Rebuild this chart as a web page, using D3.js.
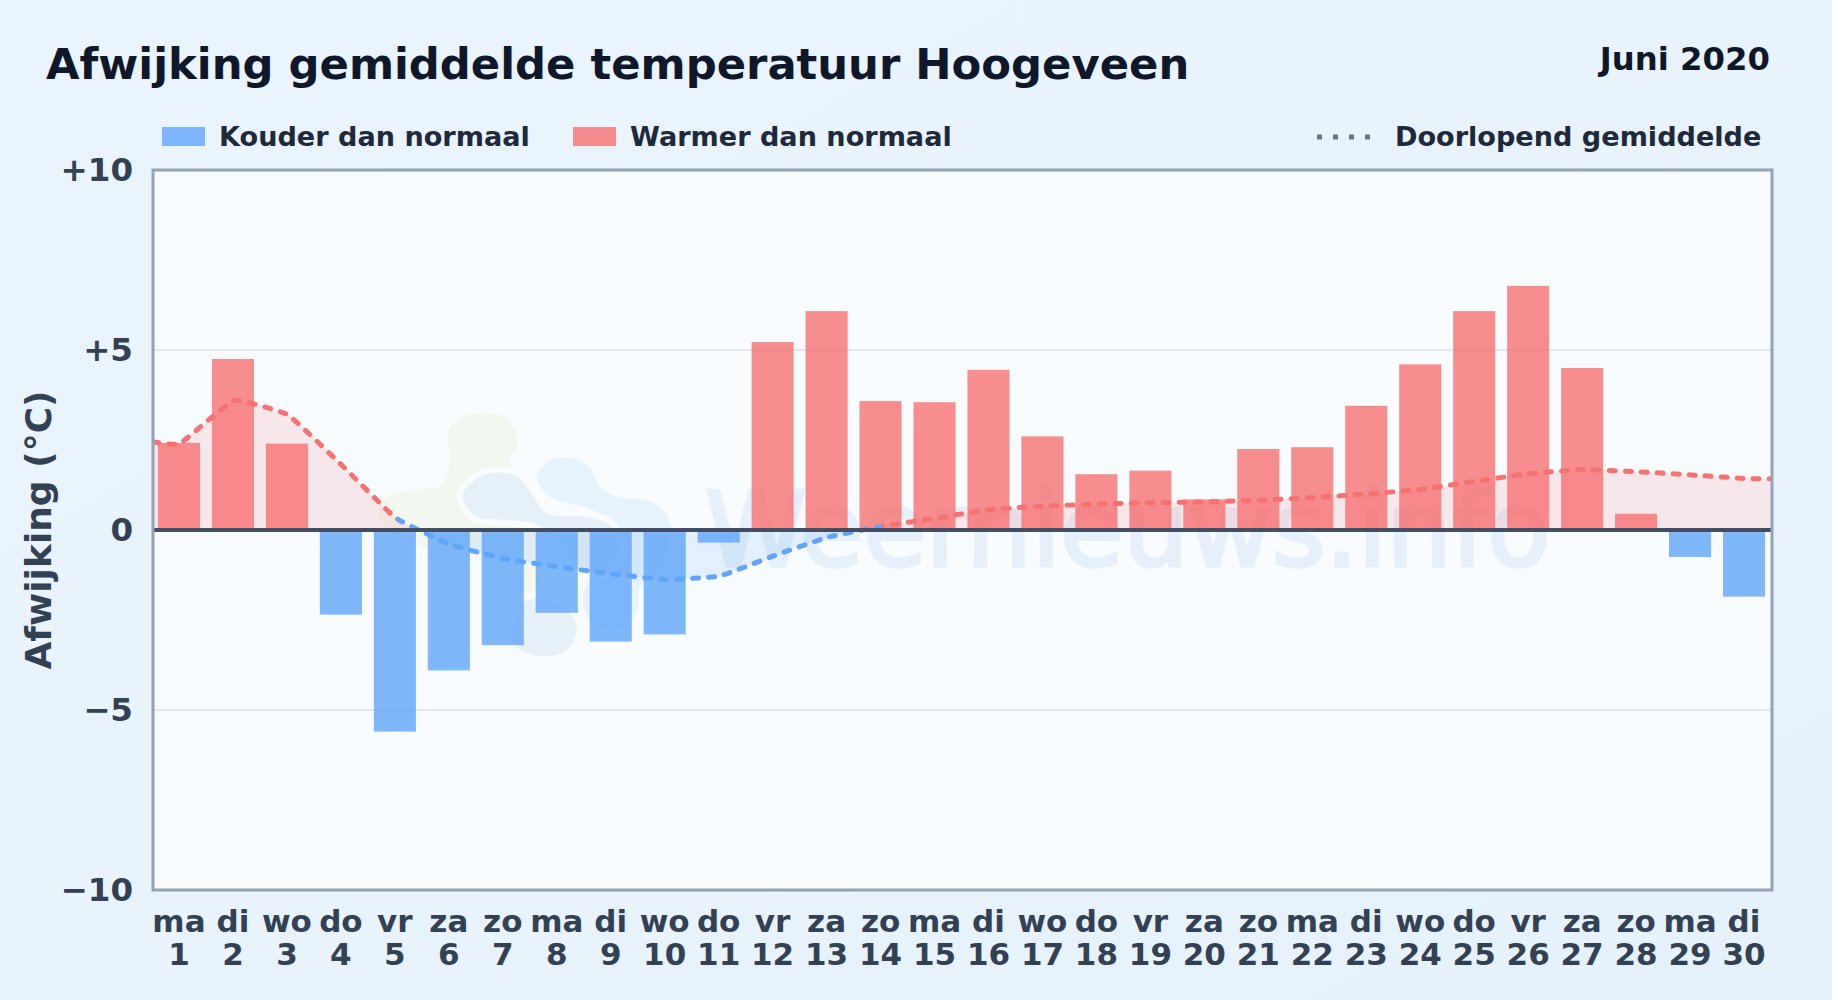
<!DOCTYPE html>
<html lang="nl">
<head>
<meta charset="utf-8">
<title>Afwijking gemiddelde temperatuur Hoogeveen</title>
<script src="https://cdn.jsdelivr.net/npm/d3@7"></script>
<style>
  html, body { margin: 0; padding: 0; background: #e8f3fc; }
  svg { display: block; font-family: "DejaVu Sans", sans-serif; font-weight: bold; }
</style>
</head>
<body>
<svg id="chart" width="1832" height="1000"></svg>
<script>
/* global d3 */
const days = d3.range(1, 31)
const weekdays = ['ma', 'di', 'wo', 'do', 'vr', 'za', 'zo', 'ma', 'di', 'wo', 'do', 'vr', 'za', 'zo', 'ma',
  'di', 'wo', 'do', 'vr', 'za', 'zo', 'ma', 'di', 'wo', 'do', 'vr', 'za', 'zo', 'ma', 'di']
const anomalies = [2.42, 4.75, 2.4, -2.35, -5.6, -3.9, -3.2, -2.3, -3.1, -2.9, -0.35, 5.22, 6.08, 3.58, 3.55,
  4.45, 2.6, 1.55, 1.65, 0.85, 2.25, 2.3, 3.45, 4.6, 6.08, 6.78, 4.5, 0.45, -0.75, -1.85]
// running mean, also at the two plot edges
const meanDays = [0.5, 1, 2, 3, 4, 5, 6, 7, 8, 9, 10, 11, 12, 13, 14, 15, 16, 17, 18, 19, 20, 21, 22, 23, 24,
  25, 26, 27, 28, 29, 30, 30.5]
const meanValues = [2.45, 2.4, 3.6, 3.2, 1.8, 0.33, -0.4, -0.8, -1.02, -1.22, -1.38, -1.28, -0.72, -0.2, 0.1,
  0.33, 0.57, 0.66, 0.72, 0.76, 0.78, 0.83, 0.9, 1.0, 1.13, 1.35, 1.57, 1.68, 1.62, 1.53, 1.43, 1.42]
// the dotted line is blue from this day up to that day, red elsewhere
const coldLineFrom = 5
const coldLineTo = 14
const yTicks = [-10, -5, 0, 5, 10]
const yTickLabels = ['\u221210', '\u22125', '0', '+5', '+10']

const plot = { left: 153, right: 1772, top: 170, bottom: 890 }
const cold = '#60a5fa'
const warm = '#f87171'
const ink = '#334155'
const plotFill = '#f8fcff'

const svg = d3.select('#chart')
const defs = svg.append('defs')

const pageGradient = defs.append('linearGradient').attr('id', 'page')
  .attr('x1', 0).attr('y1', 0).attr('x2', 1).attr('y2', 1)
pageGradient.append('stop').attr('offset', 0).attr('stop-color', '#eaf4fc')
pageGradient.append('stop').attr('offset', 1).attr('stop-color', '#e6f2fb')
svg.append('rect').attr('width', 1832).attr('height', 1000).attr('fill', 'url(#page)')

const x = d3.scaleBand().domain(days).range([plot.left - 1, plot.right - 1]).paddingInner(0.22).paddingOuter(0.11)
const xMean = d3.scaleLinear().domain([0.5, 30.5]).range([plot.left, plot.right])
const y = d3.scaleLinear().domain([-10, 10]).range([plot.bottom, plot.top])

svg.append('rect')
  .attr('x', plot.left).attr('y', plot.top)
  .attr('width', plot.right - plot.left).attr('height', plot.bottom - plot.top)
  .attr('fill', plotFill)

// Clip regions: the fill changes colour at zero, the line at two given days
defs.append('clipPath').attr('id', 'above').append('rect')
  .attr('x', plot.left).attr('y', y(10))
  .attr('width', plot.right - plot.left).attr('height', y(0) - y(10))
defs.append('clipPath').attr('id', 'below').append('rect')
  .attr('x', plot.left).attr('y', y(0))
  .attr('width', plot.right - plot.left).attr('height', y(-10) - y(0))
defs.append('clipPath').attr('id', 'lineCold').append('rect')
  .attr('x', xMean(coldLineFrom)).attr('y', plot.top)
  .attr('width', xMean(coldLineTo) - xMean(coldLineFrom)).attr('height', plot.bottom - plot.top)
const lineWarm = defs.append('clipPath').attr('id', 'lineWarm')
lineWarm.append('rect')
  .attr('x', plot.left).attr('y', plot.top)
  .attr('width', xMean(coldLineFrom) - plot.left).attr('height', plot.bottom - plot.top)
lineWarm.append('rect')
  .attr('x', xMean(coldLineTo)).attr('y', plot.top)
  .attr('width', plot.right - xMean(coldLineTo)).attr('height', plot.bottom - plot.top)

// Grid lines
svg.append('g').selectAll('line')
  .data(yTicks.filter(d => d !== 0 && Math.abs(d) !== 10))
  .join('line')
  .attr('x1', plot.left).attr('x2', plot.right)
  .attr('y1', d => y(d)).attr('y2', d => y(d))
  .attr('stroke', '#e2e8f0').attr('stroke-width', 2)

// Watermark logo, traced by hand; the halo is a stroke in the plot colour
const blob = d3.line().curve(d3.curveCatmullRomClosed.alpha(0.5))
const watermark = svg.append('g').attr('transform', 'translate(370,400) scale(0.3333)')
const logoBlobs = [
  { fill: '#f2f8f0', halo: 0, pts: [[340, 40], [410, 55], [443, 125], [420, 185], [500, 300], [500, 590], [440, 610], [330, 480], [140, 435], [30, 360], [40, 300], [130, 270], [215, 255], [240, 180], [235, 95], [270, 55]] },
  { fill: '#e6f3fd', halo: 36, pts: [[500, 230], [535, 185], [590, 172], [650, 195], [700, 270], [760, 295], [830, 300], [890, 345], [905, 420], [880, 500], [810, 560], [800, 640], [740, 690], [660, 660], [640, 580], [700, 500], [780, 440], [700, 350], [640, 320], [540, 290]] },
  { fill: '#e6f0f9', halo: 36, pts: [[280, 280], [350, 222], [440, 230], [490, 290], [530, 340], [640, 350], [720, 375], [750, 450], [700, 520], [630, 500], [560, 420], [490, 370], [400, 360], [310, 345]] },
  { fill: '#e6f0f9', halo: 36, pts: [[430, 730], [440, 650], [470, 600], [560, 610], [620, 680], [590, 750], [510, 768]] }
]
watermark.selectAll('path').data(logoBlobs).join('path')
  .attr('d', d => blob(d.pts))
  .attr('fill', d => d.fill)
  .attr('stroke', plotFill)
  .attr('stroke-width', d => d.halo)
  .attr('paint-order', 'stroke')
svg.append('text')
  .attr('x', 705).attr('y', 566)
  .attr('font-weight', 'normal')
  .attr('font-size', 102.5)
  .attr('fill', '#e6f0fa')
  .attr('stroke', '#e6f0fa')
  .attr('stroke-width', 3.5)
  .text('Weernieuws.info')

// Area between running mean and zero
const meanPoints = meanDays.map((d, i) => [d, meanValues[i]])
const meanCurve = d3.curveCardinal.tension(0.7)
const meanArea = d3.area().curve(meanCurve)
  .x(d => xMean(d[0])).y0(y(0)).y1(d => y(d[1]))
const meanLine = d3.line().curve(meanCurve)
  .x(d => xMean(d[0])).y(d => y(d[1]))

svg.append('path').attr('d', meanArea(meanPoints)).attr('clip-path', 'url(#above)')
  .attr('fill', warm).attr('fill-opacity', 0.15)
svg.append('path').attr('d', meanArea(meanPoints)).attr('clip-path', 'url(#below)')
  .attr('fill', cold).attr('fill-opacity', 0.15)

// Bars
svg.append('g').selectAll('rect')
  .data(anomalies)
  .join('rect')
  .attr('x', (d, i) => x(days[i]))
  .attr('width', x.bandwidth())
  .attr('y', d => y(Math.max(d, 0)))
  .attr('height', d => Math.abs(y(d) - y(0)))
  .attr('fill', d => d < 0 ? cold : warm)
  .attr('fill-opacity', 0.8)

// Running mean on top of the bars
const meanDash = '6 10'
svg.append('path').attr('d', meanLine(meanPoints)).attr('clip-path', 'url(#lineWarm)')
  .attr('fill', 'none').attr('stroke', warm).attr('stroke-width', 5)
  .attr('stroke-dasharray', meanDash).attr('stroke-linecap', 'round')
svg.append('path').attr('d', meanLine(meanPoints)).attr('clip-path', 'url(#lineCold)')
  .attr('fill', 'none').attr('stroke', cold).attr('stroke-width', 5)
  .attr('stroke-dasharray', meanDash).attr('stroke-linecap', 'round')

// Zero line
svg.append('line')
  .attr('x1', plot.left).attr('x2', plot.right)
  .attr('y1', y(0)).attr('y2', y(0))
  .attr('stroke', '#414f66').attr('stroke-width', 4)

// Plot border
svg.append('rect')
  .attr('x', plot.left).attr('y', plot.top)
  .attr('width', plot.right - plot.left).attr('height', plot.bottom - plot.top)
  .attr('fill', 'none').attr('stroke', '#94a3b8').attr('stroke-width', 3)

// Axes
const yAxis = d3.axisLeft(y)
  .tickValues(yTicks)
  .tickFormat((d, i) => yTickLabels[i])
  .tickSize(0)
  .tickPadding(20)
const yAxisG = svg.append('g')
  .attr('transform', `translate(${plot.left},0)`)
  .call(yAxis)
yAxisG.select('.domain').remove()
yAxisG.selectAll('text')
  .attr('font-family', '"DejaVu Sans", sans-serif')
  .attr('font-size', 32.5).attr('fill', ink)

const xAxis = d3.axisBottom(x).tickSize(0).tickFormat('').tickPadding(0)
const xAxisG = svg.append('g')
  .attr('transform', `translate(0,${plot.bottom})`)
  .call(xAxis)
xAxisG.select('.domain').remove()
xAxisG.selectAll('.tick text').remove()
const xLabels = xAxisG.selectAll('.tick').append('text')
  .attr('text-anchor', 'middle')
  .attr('font-family', '"DejaVu Sans", sans-serif')
  .attr('font-size', 31).attr('fill', ink)
xLabels.append('tspan').attr('x', 0).attr('y', 42).text((d, i) => weekdays[i])
xLabels.append('tspan').attr('x', 0).attr('y', 75).text(d => d)

svg.append('text')
  .attr('transform', `translate(51,${y(0)}) rotate(-90)`)
  .attr('text-anchor', 'middle')
  .attr('font-size', 36).attr('fill', ink)
  .text('Afwijking (\u00b0C)')

// Titles
svg.append('text')
  .attr('x', 46).attr('y', 79)
  .attr('font-size', 43.3).attr('fill', '#0f172a')
  .text('Afwijking gemiddelde temperatuur Hoogeveen')
svg.append('text')
  .attr('x', 1770).attr('y', 70)
  .attr('text-anchor', 'end')
  .attr('font-size', 32.3).attr('fill', '#0f172a')
  .text('Juni 2020')

// Legend
const legendSwatches = [
  { x: 162, color: cold, label: 'Kouder dan normaal', textX: 219 },
  { x: 573, color: warm, label: 'Warmer dan normaal', textX: 630 }
]
const legend = svg.append('g')
legend.selectAll('rect').data(legendSwatches).join('rect')
  .attr('x', d => d.x).attr('y', 127).attr('width', 43).attr('height', 19)
  .attr('fill', d => d.color).attr('fill-opacity', 0.8)
legend.selectAll('text.swatch').data(legendSwatches).join('text')
  .attr('class', 'swatch')
  .attr('x', d => d.textX).attr('y', 146)
  .attr('font-size', 27.1).attr('fill', '#1e293b')
  .text(d => d.label)
legend.append('line')
  .attr('x1', 1317).attr('x2', 1375).attr('y1', 137).attr('y2', 137)
  .attr('stroke', '#64748b').attr('stroke-width', 5).attr('stroke-dasharray', '5 11')
legend.append('text')
  .attr('x', 1395).attr('y', 146)
  .attr('font-size', 27.1).attr('fill', '#1e293b')
  .text('Doorlopend gemiddelde')
</script>
</body>
</html>
